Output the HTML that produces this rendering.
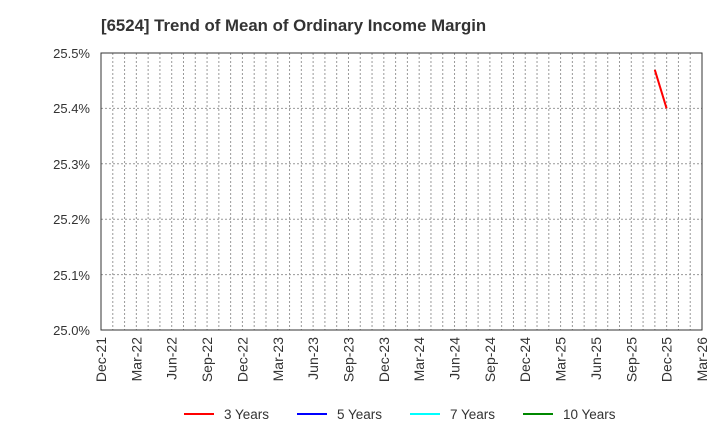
<!DOCTYPE html>
<html><head><meta charset="utf-8"><style>
body{margin:0;background:#fff;}
svg text{font-family:"Liberation Sans",Arial,sans-serif;}
</style></head><body>
<svg width="720" height="440" xmlns="http://www.w3.org/2000/svg">
<text x="101" y="31" font-size="16.8" font-weight="bold" fill="#333">[6524]  Trend of Mean of Ordinary Income Margin</text>
<g id="grid" stroke="#999" stroke-width="1" stroke-dasharray="2,2">
</g>
<g id="hg" stroke="#999" stroke-width="1" stroke-dasharray="2,2">
<line x1="101" x2="702" y1="108.4" y2="108.4"/>
<line x1="101" x2="702" y1="163.8" y2="163.8"/>
<line x1="101" x2="702" y1="219.2" y2="219.2"/>
<line x1="101" x2="702" y1="274.6" y2="274.6"/>
</g>
<rect x="101" y="53" width="601" height="277" fill="none" stroke="#333" stroke-width="1"/>
<g font-size="13" fill="#333" text-anchor="end">
<text x="90" y="58">25.5%</text>
<text x="90" y="113">25.4%</text>
<text x="90" y="169">25.3%</text>
<text x="90" y="224">25.2%</text>
<text x="90" y="280">25.1%</text>
<text x="90" y="335">25.0%</text>
</g>
<g id="xl" font-size="14" fill="#333" text-anchor="end"></g>
<polyline points="654.8,69.8 666.6,108.4" fill="none" stroke="#f00" stroke-width="2"/>
<g font-size="13.5" fill="#333">
<line x1="184" x2="214" y1="414" y2="414" stroke="#f00" stroke-width="2"/><text x="224" y="419">3 Years</text>
<line x1="297" x2="327" y1="414" y2="414" stroke="#00f" stroke-width="2"/><text x="337" y="419">5 Years</text>
<line x1="410" x2="440" y1="414" y2="414" stroke="#0ff" stroke-width="2"/><text x="450" y="419">7 Years</text>
<line x1="523" x2="553" y1="414" y2="414" stroke="#080" stroke-width="2"/><text x="563" y="419">10 Years</text>
</g>
</svg>
<script>
var ns="http://www.w3.org/2000/svg",g=document.getElementById("grid"),xl=document.getElementById("xl");
var step=601/51;
for(var i=1;i<51;i++){var x=101+i*step;var l=document.createElementNS(ns,"line");l.setAttribute("x1",x);l.setAttribute("x2",x);l.setAttribute("y1",53);l.setAttribute("y2",330);g.appendChild(l);}
var m=["Dec","Mar","Jun","Sep"];
for(var k=0;k<=17;k++){var x=101+k*3*step;var lab=m[k%4]+"-"+(21+Math.floor((k+3)/4));
var t=document.createElementNS(ns,"text");t.setAttribute("transform","translate("+(x+5)+",337) rotate(-90)");t.textContent=lab;xl.appendChild(t);}
</script>
</body></html>
